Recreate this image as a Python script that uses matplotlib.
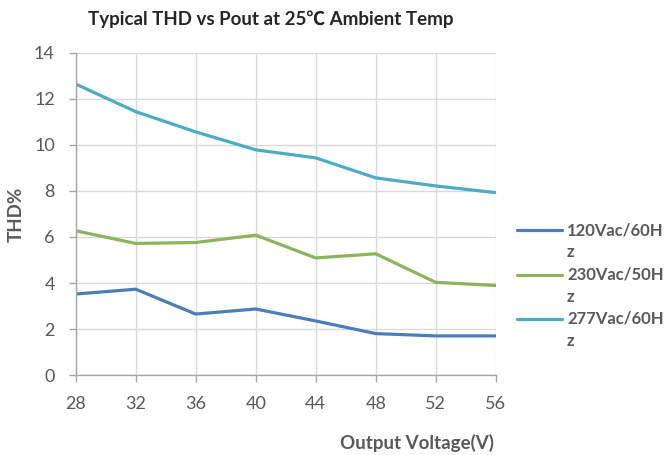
import matplotlib
matplotlib.use("Agg")
import matplotlib.pyplot as plt
from matplotlib.lines import Line2D

voltages = [28, 32, 36, 40, 44, 48, 52, 56]
thd_120 = [3.52, 3.73, 2.65, 2.87, 2.35, 1.80, 1.70, 1.70]
thd_230 = [6.27, 5.72, 5.76, 6.08, 5.09, 5.27, 4.03, 3.89]
thd_277 = [12.65, 11.45, 10.57, 9.79, 9.44, 8.57, 8.22, 7.93]
labels = ["120Vac/60H\nz", "230Vac/50H\nz", "277Vac/60H\nz"]
colors = ["#4A7EBB", "#8DB45A", "#4AACC5"]

plt.rcParams['font.family'] = ['Lato', 'DejaVu Sans']

W, H = 666, 455
fig = plt.figure(figsize=(W / 100, H / 100), dpi=100)
ax = fig.add_axes([75.7 / W, 1 - 375 / H, 420 / W, 322 / H])

for ys, lab, c in zip([thd_120, thd_230, thd_277], labels, colors):
    ax.plot(voltages, ys, color=c, lw=2.3, label=lab, solid_capstyle='round')

ax.set_xlim(28, 56)
ax.set_ylim(0, 14)
ax.set_xticks(voltages)
ax.set_yticks(range(0, 15, 2))
ax.grid(True, color="#D9D9D9", lw=1.0)
ax.set_axisbelow(True)
for s in ['top', 'right']:
    ax.spines[s].set_visible(False)
for s in ['left', 'bottom']:
    ax.spines[s].set_color("#A6A6A6")
    ax.spines[s].set_linewidth(1.0)
ax.tick_params(axis='both', colors="#A6A6A6", labelcolor="#595959",
               labelsize=13, length=5, width=1.0)
ax.tick_params(axis='x', pad=10)
ax.tick_params(axis='y', pad=10)

ylab = ax.set_ylabel("THD%", fontsize=13.5, fontweight='bold', color="#595959")
ax.yaxis.set_label_coords((25 - 75.7) / 420, 0.5)
ax.set_xlabel("Output Voltage(V)", fontsize=13.5, fontweight='bold', color="#595959")
ax.xaxis.set_label_coords((417 - 75.7) / 420, -(434 - 375) / 322)

fig.text(271 / W, 1 - 19 / H, "Typical THD vs Pout at 25℃ Ambient Temp", ha='center', va='center',
         fontsize=13.5, fontweight='bold', color="#262626",
         family=['Lato', 'Noto Sans CJK SC', 'DejaVu Sans'])

# legend drawn to mimic the wrapped entries
leg_y = [230, 274.5, 319]
for y, lab, c in zip(leg_y, labels, colors):
    fig.add_artist(Line2D([517 / W, 562 / W], [1 - y / H, 1 - y / H], color=c, lw=2.3,
                          solid_capstyle='round', transform=fig.transFigure))
    first, second = lab.split("\n")
    fig.text(567 / W, 1 - y / H, first, ha='left', va='center', fontsize=12,
             fontweight='bold', color="#595959")
    fig.text(567 / W, 1 - (y + 22) / H, second, ha='left', va='center', fontsize=12,
             fontweight='bold', color="#595959")

fig.savefig("out.png", dpi=100)
